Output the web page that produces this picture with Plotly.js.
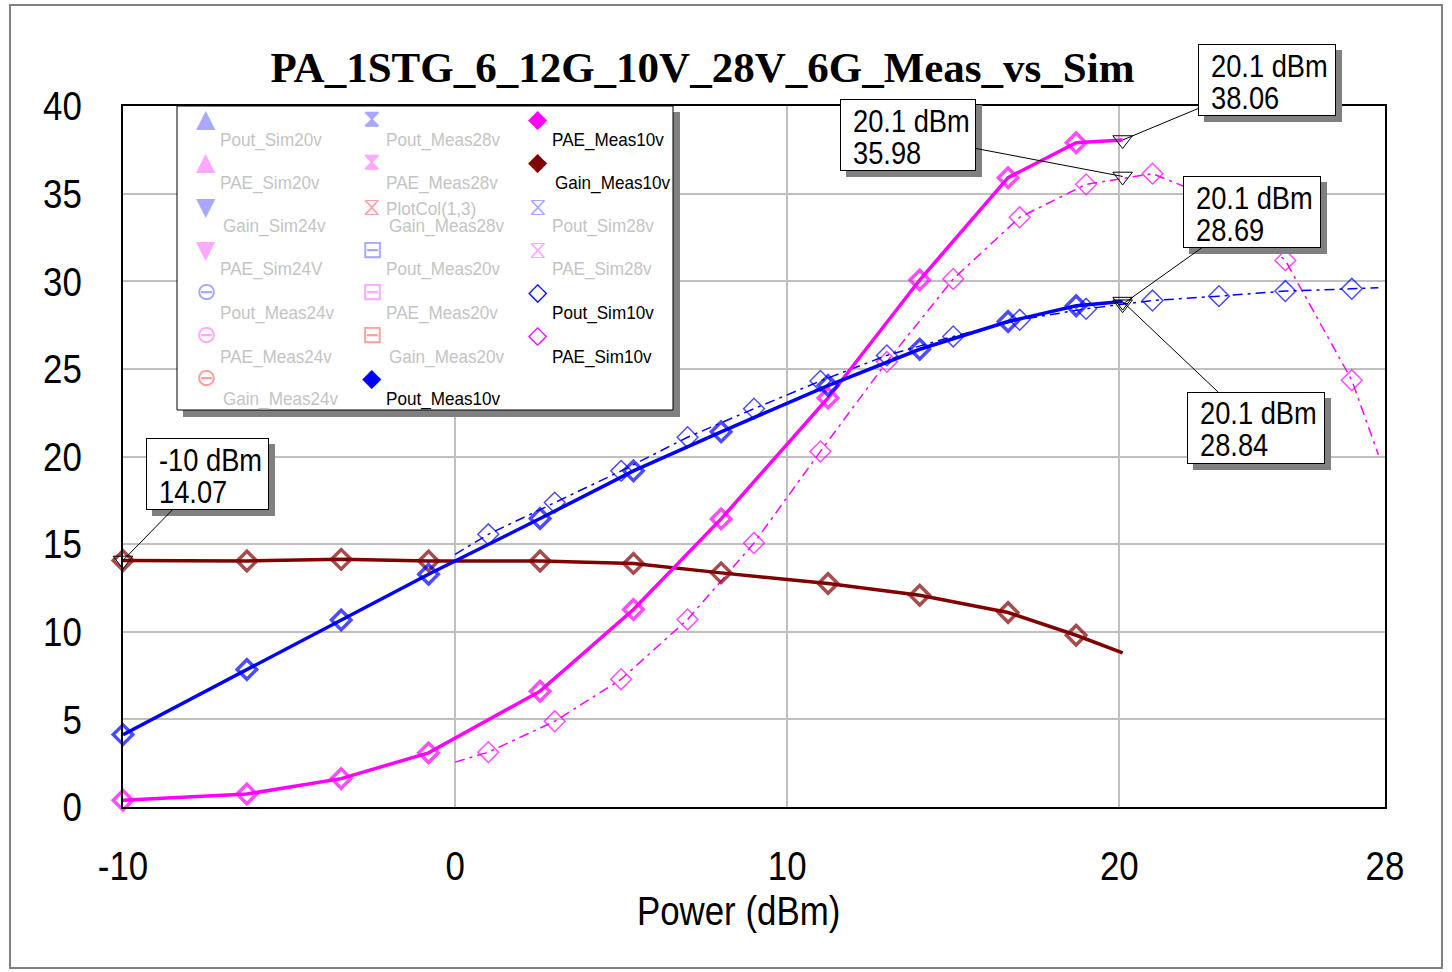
<!DOCTYPE html>
<html><head><meta charset="utf-8">
<script src="https://cdn.plot.ly/plotly-3.0.1.min.js"></script>
<style>html,body{margin:0;padding:0;background:#fff;}#chart{width:1452px;height:972px;}</style>
</head><body><div id="chart"></div>
<script>
// ---- data ----
const measX = [-10, -6.27, -3.43, -0.8, 2.56, 5.37, 8.01, 11.23, 13.99, 16.65, 18.7, 20.1];
const poutMeas10v = [4.13, 7.85, 10.67, 13.28, 16.46, 19.18, 21.41, 24.05, 26.12, 27.7, 28.6, 28.84];
const paeMeas10v = [0.38, 0.74, 1.62, 3.09, 6.61, 11.27, 16.44, 23.34, 30.07, 35.91, 37.9, 38.06];
const gainMeas10v = [14.07, 14.04, 14.13, 14.04, 14.04, 13.9, 13.36, 12.75, 12.08, 11.1, 9.8, 8.8];
const simX = [0, 1, 3, 5, 7, 9, 11, 13, 15, 17, 19, 21, 23, 25, 27, 27.8];
const poutSim10v = [14.42, 15.56, 17.37, 19.18, 21.1, 22.73, 24.31, 25.77, 26.85, 27.8, 28.43, 28.9, 29.15, 29.44, 29.57, 29.63];
const paeSim10v = [2.56, 3.13, 4.89, 7.29, 10.7, 15.06, 20.29, 25.4, 30.13, 33.65, 35.53, 36.14, 34.6, 31.19, 24.35, 20.1];

const markerX = [-10, 20.1, 20.1, 20.1, 20.1];
const markerY = [14.07, 38.06, 35.98, 28.69, 28.84];
const markerLine1 = ['-10 dBm', '20.1 dBm', '20.1 dBm', '20.1 dBm', '20.1 dBm'];
const markerLine2 = ['14.07', '38.06', '35.98', '28.69', '28.84'];

const xTickVals = [-10, 0, 10, 20, 28];
const yTickVals = [0, 5, 10, 15, 20, 25, 30, 35, 40];
const xTitle = 'Power (dBm)';
const chartTitle = 'PA_1STG_6_12G_10V_28V_6G_Meas_vs_Sim';

const legendCol1 = ['Pout_Sim20v', 'PAE_Sim20v', 'Gain_Sim24v', 'PAE_Sim24V', 'Pout_Meas24v', 'PAE_Meas24v', 'Gain_Meas24v'];
const legendCol2 = ['Pout_Meas28v', 'PAE_Meas28v', 'PlotCol(1,3)', 'Pout_Meas20v', 'PAE_Meas20v', 'Gain_Meas20v', 'Pout_Meas10v'];
const legendCol3 = ['PAE_Meas10v', 'Gain_Meas10v', 'Pout_Sim28v', 'PAE_Sim28v', 'Pout_Sim10v', 'PAE_Sim10v'];
const legendExtra = 'Gain_Meas28v';

// ---- styling ----
const SANS = "'Liberation Sans', Arial, sans-serif";
const SYM = "'DejaVu Sans', sans-serif";
const BLUE = '#0000ff', MAG = '#ff00ff', DRED = '#800000';
const LB = '#a8a8ff', LP = '#ffa8ff', LR = '#ffa0a0', GREYTXT = '#c4c4c4';

const sym1 = [['▲', LB], ['▲', LP], ['▼', LB], ['▼', LP], ['⊖', LB], ['⊖', LP], ['⊖', LR]];
const sym2 = [['⧗', LB], ['⧗', LP], ['⧖', LR], ['⊟', LB], ['⊟', LP], ['⊟', LR], ['◆', BLUE]];
const sym3 = [['◆', MAG], ['◆', DRED], ['⧖', LB], ['⧖', LP], ['◇', BLUE], ['◇', MAG]];
const txtColor1 = legendCol1.map(() => GREYTXT);
const txtColor2 = legendCol2.map((n) => n.endsWith('10v') ? '#000' : GREYTXT);
const txtColor3 = legendCol3.map((n) => n.endsWith('10v') ? '#000' : GREYTXT);

function sizes(n, skipFirst, skipLast, s) {
  return Array.from({length: n}, (_, i) => ((skipFirst && i === 0) || (skipLast && i === n - 1)) ? 0 : s);
}

const traces = [
  {x: simX, y: paeSim10v, mode: 'lines+markers', line: {color: MAG, width: 1.5, dash: '10px,5px,3px,5px'},
   marker: {symbol: 'diamond-open', size: sizes(simX.length, true, true, 16), color: MAG, line: {width: 1.5, color: MAG}}},
  {x: simX, y: poutSim10v, mode: 'lines+markers', line: {color: BLUE, width: 1.5, dash: '10px,5px,3px,5px'},
   marker: {symbol: 'diamond-open', size: sizes(simX.length, true, true, 16), color: BLUE, line: {width: 1.5, color: BLUE}}},
  {x: measX, y: gainMeas10v, mode: 'lines+markers', line: {color: DRED, width: 3.5},
   marker: {symbol: 'diamond-open', size: sizes(measX.length, false, true, 15), color: DRED, line: {width: 3.5, color: DRED}}},
  {x: measX, y: paeMeas10v, mode: 'lines+markers', line: {color: MAG, width: 3.5},
   marker: {symbol: 'diamond-open', size: sizes(measX.length, false, true, 15), color: MAG, line: {width: 3.5, color: MAG}}},
  {x: measX, y: poutMeas10v, mode: 'lines+markers', line: {color: BLUE, width: 3.5},
   marker: {symbol: 'diamond-open', size: sizes(measX.length, false, true, 15), color: BLUE, line: {width: 3.5, color: BLUE}}},
  {x: markerX, y: markerY, mode: 'markers',
   marker: {symbol: 'triangle-down-open', size: 17, color: '#000', line: {width: 1, color: '#000'}}}
].map(t => Object.assign({type: 'scatter', hoverinfo: 'skip', cliponaxis: false}, t));

// ---- layout helpers (pixel -> paper) ----
const PL = 123, PR = 1385, PT = 106, PB = 807;
const xp = (px) => (px - PL) / (PR - PL);
const yp = (py) => (PB - py) / (PB - PT);

const shapes = [
  {type: 'rect', xref: 'paper', yref: 'paper', x0: xp(10), x1: xp(1442), y0: yp(5), y1: yp(968), line: {color: '#808080', width: 2}, layer: 'below'},
  {type: 'rect', xref: 'paper', yref: 'paper', x0: xp(183), x1: xp(680), y0: yp(112), y1: yp(417), fillcolor: '#808080', line: {width: 0}, layer: 'above'},
  {type: 'rect', xref: 'paper', yref: 'paper', x0: xp(177), x1: xp(673), y0: yp(106), y1: yp(410), fillcolor: '#ffffff', line: {color: '#000', width: 1}, layer: 'above'}
];

const annotations = [];
// x-axis title (placed like the original, left of the plot centre)
annotations.push({xref: 'paper', yref: 'paper', x: xp(738), y: yp(911), xanchor: 'center', yanchor: 'middle',
  text: xTitle, showarrow: false, font: {family: SANS, size: 41, color: '#000'}});

const colX = [[206, 218], [372, 384], [538, 550]];
const rowTextY = [140, 183, 226, 269, 313, 357, 399];
const rowSymY = [118, 161, 206, 249, 291, 334, 377];
[[legendCol1, sym1, txtColor1], [legendCol2, sym2, txtColor2], [legendCol3, sym3, txtColor3]].forEach((col, c) => {
  const [names, syms, cols] = col;
  names.forEach((name, r) => {
    let ty = rowTextY[r];
    if (c === 1 && r === 2) ty = 209;
    const indent = name.startsWith('Gain') ? 3 : 0;
    annotations.push({xref: 'paper', yref: 'paper', x: xp(colX[c][1] + indent), y: yp(ty), xanchor: 'left', yanchor: 'middle', align: 'left',
      text: name, showarrow: false, font: {family: SANS, size: 19, color: cols[r]}});
    annotations.push({xref: 'paper', yref: 'paper', x: xp(colX[c][0]), y: yp(rowSymY[r]), xanchor: 'center', yanchor: 'middle',
      text: syms[r][0], showarrow: false, font: {family: SYM, size: 25, color: syms[r][1]}});
  });
});
annotations.push({xref: 'paper', yref: 'paper', x: xp(387), y: yp(226), xanchor: 'left', yanchor: 'middle', align: 'left',
  text: legendExtra, showarrow: false, font: {family: SANS, size: 19, color: GREYTXT}});

// data label boxes
const boxOff = [[84, -86], [144, -60], [-215, -41], [129, -92], [133, 126]];
const boxW = [121, 136, 134, 136, 136];
const BH = 70;
markerX.forEach((x, i) => {
  const [ax, ay] = boxOff[i];
  const BW = boxW[i];
  const base = {x: x, y: markerY[i], xref: 'x', yref: 'y'};
  annotations.push(Object.assign({}, base, {text: ' ', showarrow: true, ax: ax, ay: ay, axref: 'pixel', ayref: 'pixel',
    width: BW, height: BH, bgcolor: '#808080', bordercolor: '#808080', borderwidth: 1, borderpad: 0,
    arrowcolor: 'rgba(0,0,0,0)', arrowwidth: 0.1, arrowhead: 0, xshift: 6, yshift: -6}));
  annotations.push(Object.assign({}, base, {text: ' ', showarrow: true, ax: ax, ay: ay, axref: 'pixel', ayref: 'pixel',
    width: BW, height: BH, bgcolor: '#ffffff', bordercolor: '#000', borderwidth: 1, borderpad: 0,
    arrowcolor: '#000', arrowwidth: 1, arrowhead: 0, standoff: 0}));
  annotations.push(Object.assign({}, base, {text: markerLine1[i], showarrow: false, xanchor: 'left', yanchor: 'middle', align: 'left',
    xshift: ax - BW / 2 + 10, yshift: -(ay - 14), font: {family: SANS, size: 31, color: '#000'}}));
  annotations.push(Object.assign({}, base, {text: markerLine2[i], showarrow: false, xanchor: 'left', yanchor: 'middle', align: 'left',
    xshift: ax - BW / 2 + 10, yshift: -(ay + 18), font: {family: SANS, size: 31, color: '#000'}}));
});

const layout = {
  width: 1452, height: 972,
  margin: {l: PL, r: 1452 - PR, t: PT, b: 972 - PB, pad: 0},
  paper_bgcolor: '#ffffff', plot_bgcolor: '#ffffff',
  showlegend: false,
  font: {family: SANS, color: '#000'},
  title: {text: '<b>' + chartTitle + '</b>', xref: 'container', yref: 'container',
    x: 702.5 / 1452, xanchor: 'center', y: 1 - 67 / 972, yanchor: 'middle',
    font: {family: "'Liberation Serif', 'Times New Roman', serif", size: 43, color: '#000'}},
  xaxis: {range: [-10, 28], tickvals: xTickVals, ticktext: xTickVals.map(String), showgrid: true, gridcolor: '#c0c0c0', gridwidth: 2,
    zeroline: false, showline: true, mirror: true, linecolor: '#000', linewidth: 2, ticks: '',
    tickfont: {family: SANS, size: 41, color: '#000'}, ticklabelstandoff: 22},
  yaxis: {range: [0, 40], tickvals: yTickVals, ticktext: yTickVals.map(String), showgrid: true, gridcolor: '#c0c0c0', gridwidth: 2,
    zeroline: false, showline: true, mirror: true, linecolor: '#000', linewidth: 2, ticks: '',
    tickfont: {family: SANS, size: 41, color: '#000'}, ticklabelstandoff: 31},
  shapes: shapes,
  annotations: annotations
};

// condensed look of the original (narrow sans): squeeze sans texts horizontally, keeping their anchors
function condense(gd) {
  gd.querySelectorAll('text').forEach(t => {
    const ff = t.style.fontFamily || '';
    if (!/Liberation Sans/.test(ff)) return;
    const fs = parseFloat(t.style.fontSize) || 12;
    const k = fs < 25 ? 0.9 : fs < 36 ? 0.88 : 0.85;
    const len = t.getComputedTextLength();
    if (!len) return;
    t.setAttribute('textLength', (len * k).toFixed(2));
    t.setAttribute('lengthAdjust', 'spacingAndGlyphs');
  });
}

Plotly.newPlot('chart', traces, layout, {staticPlot: true, displayModeBar: false}).then(condense);
</script></body></html>
